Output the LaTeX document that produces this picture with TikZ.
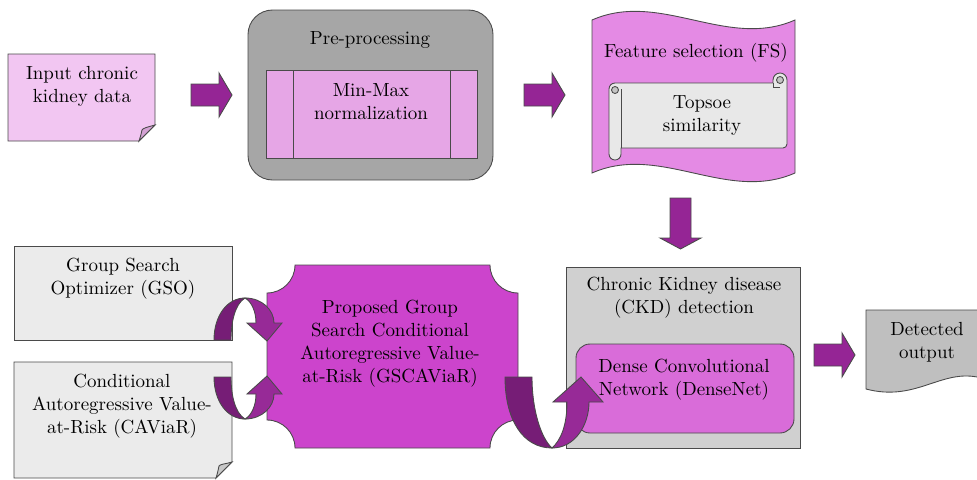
\documentclass[tikz,border=0pt]{standalone}
\usepackage{tikz}
\definecolor{edgegray}{HTML}{4A4A4A}
\definecolor{inputpink}{HTML}{F2C6F2}
\definecolor{inputfold}{HTML}{D4A2D4}
\definecolor{pregray}{HTML}{A6A6A6}
\definecolor{minmaxpink}{HTML}{E6A6E6}
\definecolor{fspink}{HTML}{E48AE4}
\definecolor{scrollgray}{HTML}{E8E8E8}
\definecolor{rolldark}{HTML}{C4C4C4}
\definecolor{arrowpurple}{HTML}{952595}
\definecolor{bandback}{HTML}{761D76}
\definecolor{bandfront}{HTML}{972A97}
\definecolor{boxgray}{HTML}{EBEBEB}
\definecolor{foldgray}{HTML}{C8C8C8}
\definecolor{plaquemag}{HTML}{CC44CC}
\definecolor{ckdgray}{HTML}{D0D0D0}
\definecolor{densemag}{HTML}{D96CD9}
\definecolor{outgray}{HTML}{BFBFBF}

\begin{document}
\begin{tikzpicture}[x=0.02cm,y=-0.02cm,
  outline/.style={draw=edgegray,line width=0.5pt},
  txt/.style={align=center,inner sep=0pt,font=\fontsize{10.8}{13.1}\selectfont},
  blockarrow/.style={outline,fill=arrowpurple},
  backband/.style={outline,fill=bandback},
  frontband/.style={outline,fill=bandfront},
  rarrow/.pic={\draw[blockarrow] (0,-11) -- (28,-11) -- (28,-22) -- (41,0) -- (28,22) -- (28,11) -- (0,11) -- cycle;}]

  \path[use as bounding box] (0,0) rectangle (977,480);
  \clip (0,0) rectangle (977,480);

  % input
  \draw[outline,fill=inputpink] (8,54) -- (155,54) -- (155,125) -- (139,141) -- (8,141) -- cycle;
  \draw[outline,fill=inputfold] (155,125) .. controls (148,127) and (143,128) .. (142,130) .. controls (141,135) and (140,138) .. (139,141) -- cycle;
  \node[txt] (input) at (82,86) {Input chronic\\kidney data};

  % pre-processing
  \draw[outline,fill=pregray,rounded corners=14pt] (248,10) rectangle (493,180);
  \draw[outline,fill=minmaxpink] (266,70) rectangle (477,158);
  \draw[outline] (293,70) -- (293,158) (450,70) -- (450,158);
  \node[txt] (pre) at (370,40) {Pre-processing};
  \node[txt] (minmax) at (371,102) {Min-Max\\normalization};

  % feature selection
  \draw[outline,fill=fspink] (592,20) .. controls (660,-10) and (727,50) .. (795,20) -- (795,173)
    .. controls (727,203) and (660,143) .. (592,173) -- cycle;
  \draw[outline,fill=scrollgray] (609,89) arc[start angle=180,end angle=270,radius=6] -- (773,83) -- (773,80)
    arc[start angle=180,end angle=360,radius=7] -- (787,144) arc[start angle=0,end angle=90,radius=4]
    -- (621,148) -- (621,154) arc[start angle=0,end angle=180,radius=6] -- cycle;
  \draw[outline] (621,89) -- (621,148);
  \draw[outline] (773,83) -- (773,87) -- (780,87);
  \draw[outline,fill=rolldark] (615,90) circle[radius=3.5];
  \draw[outline,fill=rolldark] (780,80) circle[radius=3.5];
  \node[txt] (fs) at (696,53) {Feature selection (FS)};
  \node[txt] (topsoe) at (702,116) {Topsoe\\similarity};

  % optimizers
  \draw[outline,fill=boxgray] (14,246) rectangle (232,340);
  \node[txt] (gso) at (123,279) {Group Search\\Optimizer (GSO)};
  \draw[outline,fill=boxgray] (14,362) -- (232,362) -- (232,462) -- (216,478) -- (14,478) -- cycle;
  \draw[outline,fill=foldgray] (232,462) .. controls (226,464) and (220,464) .. (219,466) .. controls (218,471) and (217,475) .. (216,478) -- cycle;
  \node[txt] (caviar) at (122,406) {Conditional\\Autoregressive Value-\\at-Risk (CAViaR)};

  % proposed GSCAViaR
  \draw[outline,fill=plaquemag] (295,265) -- (490,265) arc[start angle=180,end angle=90,radius=28]
    -- (518,420) arc[start angle=270,end angle=180,radius=28]
    -- (295,448) arc[start angle=0,end angle=-90,radius=28]
    -- (267,293) arc[start angle=90,end angle=0,radius=28] -- cycle;
  \node[txt] (gscaviar) at (390,344) {Proposed Group\\Search Conditional\\Autoregressive Value-\\at-Risk (GSCAViaR)};

  % detection
  \draw[outline,fill=ckdgray] (566,267) rectangle (800,448);
  \node[txt] (ckd) at (684,298) {Chronic Kidney disease\\(CKD) detection};
  \draw[outline,fill=densemag,rounded corners=8pt] (576,344) rectangle (794,433);
  \node[txt] (densenet) at (684,380) {Dense Convolutional\\Network (DenseNet)};

  % output
  \draw[outline,fill=outgray] (866,310) -- (990,310) -- (990,377) -- (977,377)
    .. controls (940,370) and (915,402) .. (866,389) -- cycle;
  \node[txt] (output) at (927,342) {Detected\\output};

  % block arrows
  \pic at (191,95) {rarrow};
  \pic at (524,95) {rarrow};
  \pic at (814,355) {rarrow};
  \draw[blockarrow] (670,198) -- (691,198) -- (691,238) -- (701,238) -- (680.5,249) -- (660,238) -- (670,238) -- cycle;

  % turning arrows
  \draw[backband] (214,340) .. controls (214,316) and (227,298) .. (245,298) .. controls (235,304) and (231,322) .. (231,340) -- cycle;
  \draw[frontband] (245,298) .. controls (262,298) and (274,310) .. (274,323) -- (282,323) -- (267,341) -- (247,323) -- (256,323)
    .. controls (256,312) and (252,302) .. (245,298) -- cycle;
  \draw[backband] (214,377) .. controls (214,401) and (227,419) .. (245,419) .. controls (235,413) and (231,395) .. (231,377) -- cycle;
  \draw[frontband] (245,419) .. controls (262,419) and (274,407) .. (274,394) -- (282,394) -- (267,376) -- (247,394) -- (256,394)
    .. controls (256,405) and (252,415) .. (245,419) -- cycle;
  \draw[backband] (505,377) .. controls (505,420) and (523,448) .. (552,448) .. controls (541,438) and (532,410) .. (532,377) -- cycle;
  \draw[frontband] (552,448) .. controls (575,448) and (589,425) .. (589,402) -- (603,402) -- (581,377) -- (553,402) -- (567,402)
    .. controls (567,425) and (561,440) .. (552,448) -- cycle;

\end{tikzpicture}
\end{document}
